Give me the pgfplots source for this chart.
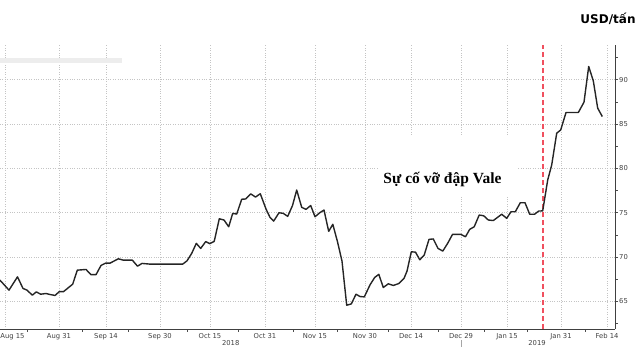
\documentclass[border=0pt]{standalone}
\usepackage{pgfplots}
\pgfplotsset{compat=1.18}
\usepackage{fontspec}
\setmainfont{DejaVu Sans}
\newfontfamily\serifb{Liberation Serif}
\definecolor{ticklab}{HTML}{404040}
\definecolor{gridc}{HTML}{C4C4C4}
\definecolor{redline}{HTML}{F0505F}
\definecolor{lineclr}{HTML}{252525}
\pgfplotstableread{
x y
0 67.40
9 66.28
17.5 67.78
23 66.47
27 66.28
32.3 65.71
36.3 66.08
40.7 65.82
46 65.90
50 65.79
55 65.68
59.3 66.11
63.5 66.11
72.7 66.95
77.3 68.53
86 68.61
91 68.02
96 68.02
101 69.06
105.5 69.32
110 69.32
118.3 69.81
123.3 69.66
132.3 69.66
137.5 68.98
142 69.29
150 69.21
182.7 69.21
187 69.58
191.7 70.42
196.3 71.55
200.7 70.98
205.7 71.75
209.7 71.52
214.2 71.77
219.3 74.32
224 74.18
228.7 73.42
232.7 74.93
236.7 74.85
241.7 76.52
245.7 76.55
250.7 77.13
255.5 76.77
260.3 77.14
266 75.42
270 74.48
273.7 74.06
279 75.00
283.3 74.93
287.7 74.59
292.5 75.81
296.7 77.56
301.7 75.61
306 75.38
310.7 75.81
315 74.55
320 75.02
324 75.30
328.7 72.90
332.8 73.70
337.5 71.73
342 69.55
346.7 64.58
351.3 64.73
356 65.82
360 65.56
364.3 65.52
370 66.87
374.7 67.71
378.8 68.06
383.3 66.58
388.3 66.99
393.3 66.81
399 67.03
404 67.60
407 68.42
411.3 70.60
415.5 70.56
419.8 69.70
424.2 70.23
429 72.00
433.3 72.05
438 70.98
442.8 70.68
447.8 71.58
452.5 72.56
461 72.56
465.5 72.29
469.7 73.13
474.2 73.42
479.2 74.74
483.7 74.66
488.3 74.18
493.3 74.12
501.7 74.83
506.7 74.37
511 75.11
515.3 75.11
520.3 76.13
525 76.13
529.7 74.83
534.5 74.83
538.7 75.19
542.7 75.21
547.7 78.69
551.7 80.38
556.7 83.96
560.7 84.33
566 86.29
578.3 86.29
584 87.46
588.7 91.48
593.3 89.86
597.7 86.78
602.3 85.84
}\ironore
\begin{document}
\begin{tikzpicture}
\begin{axis}[
  scale only axis,
  width=615pt, height=284pt,
  at={(0pt,0pt)}, anchor=south west,
  xmin=0, xmax=615, ymin=61.9, ymax=93.9,
  axis x line*=bottom, axis y line*=right,
  axis line style={draw=black!75, line width=0.8pt},
  xtick={5,59,106,160,210,265,315,365,411,461,507,561,607},
  xticklabels={\hspace*{15pt}Aug 15,Aug 31,Sep 14,Sep 30,Oct 15,Oct 31,Nov 15,Nov 30,Dec 14,Dec 29,Jan 15,Jan 31,Feb 14},
  minor xtick={27,82,128,187,238,293,337,388,438,484,527,585},
  ytick={65,70,75,80,85,90},
  minor ytick={62.5,67.5,72.5,77.5,82.5,87.5,92.5},
  tick align=outside,
  major tick length=3pt, minor tick length=2.5pt,
  tick style={draw=black!70, line width=0.6pt},
  major x tick style={draw=none},
  grid=major,
  major grid style={gridc, dotted, line width=0.6pt},
  /pgf/number format/assume math mode=true,
  ticklabel style={font=\fontsize{6.8}{7}\selectfont, text=ticklab},
  xticklabel style={inner sep=1pt, yshift=-0.5pt},
  yticklabel style={inner sep=1pt, anchor=west},
  clip=false,
]
\addplot[redline, line width=1.3pt, dash pattern=on 5pt off 3pt] coordinates {(543,61.9) (543,93.9)};
\addplot[lineclr, line width=1.4pt, line join=round] table {\ironore};
\fill[white] (axis cs:378,76.8) rectangle (axis cs:517,83.5);
\node[anchor=base, font=\serifb\bfseries\fontsize{15.5}{16}\selectfont, text=black] at (axis cs:442.5,78.35) {Sự cố vỡ đập Vale};
\end{axis}
\fill[black!7] (0pt,266pt) rectangle (122pt,271pt);
\node[anchor=base, font=\bfseries\fontsize{12}{13}\selectfont, text=black] at (608pt,305.5pt) {USD/tấn};
\node[font=\fontsize{6.8}{7}\selectfont, text=ticklab] at (230.7pt,-14pt) {2018};
\node[font=\fontsize{6.8}{7}\selectfont, text=ticklab] at (537pt,-14pt) {2019};
\draw[black!35, line width=1pt] (461pt,-11pt) -- (461pt,-18pt);
\pgfresetboundingbox
\path[use as bounding box] (0pt,-31pt) rectangle (640pt,329pt);
\end{tikzpicture}
\end{document}
